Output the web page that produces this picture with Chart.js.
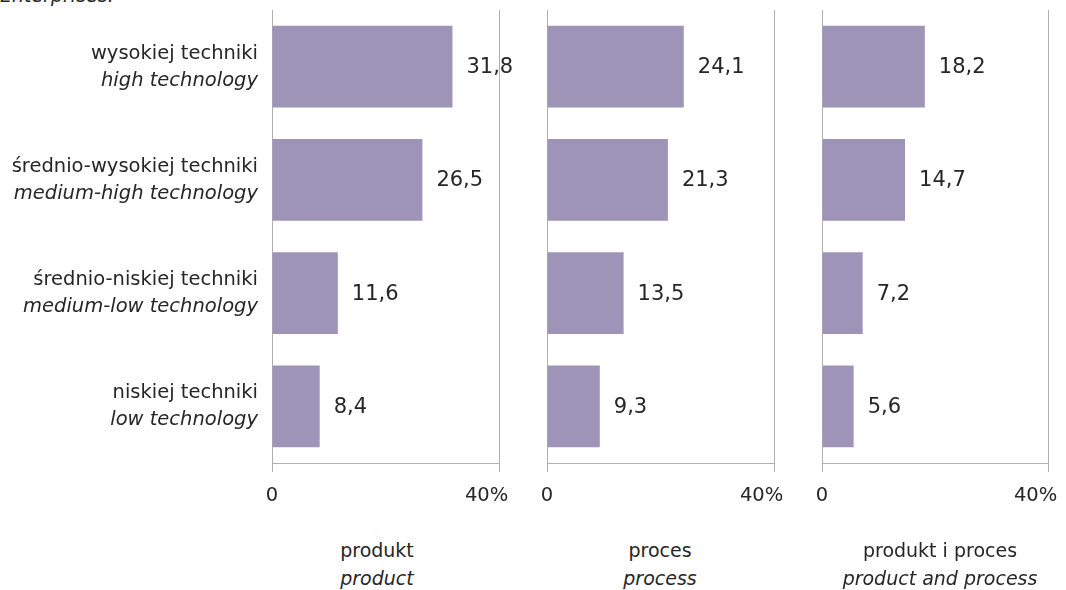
<!DOCTYPE html>
<html><head><meta charset="utf-8">
<script src="https://cdn.jsdelivr.net/npm/chart.js@4.4.1/dist/chart.umd.min.js"></script>
<style>
html,body{margin:0;padding:0;background:#fff}
body{width:1066px;height:590px;overflow:hidden;position:relative;font-family:'DejaVu Sans',sans-serif;color:#262626}
canvas{position:absolute;top:0}
.cap{position:absolute;top:536px;text-align:center;font-size:19px;line-height:28px;white-space:nowrap;transform:translateX(-50%)}
.hdr{position:absolute;left:0;top:-16px;font-size:19px;font-style:italic;white-space:nowrap}
</style></head>
<body>
<div class="hdr" id="hdr"></div>
<canvas id="c1" width="545" height="520" style="left:0px;width:545px;height:520px"></canvas>
<canvas id="c2" width="310" height="520" style="left:510px;width:310px;height:520px"></canvas>
<canvas id="c3" width="281" height="520" style="left:785px;width:281px;height:520px"></canvas>
<div id="caps"></div>
<script>
const headerText = 'Enterprises:';
const categoriesPL = ['wysokiej techniki','średnio-wysokiej techniki','średnio-niskiej techniki','niskiej techniki'];
const categoriesEN = ['high technology','medium-high technology','medium-low technology','low technology'];
const panelsPL = ['produkt','proces','produkt i proces'];
const panelsEN = ['product','process','product and process'];
const productValues = [31.8, 26.5, 11.6, 8.4];
const processValues = [24.1, 21.3, 13.5, 9.3];
const bothValues = [18.2, 14.7, 7.2, 5.6];
const tickLabels = ['0', '40%'];

const FONT = "'DejaVu Sans', sans-serif";
const TXT = '#262626';
const GRID = '#b0b0b0';
const BAR = '#9e94b7';

document.getElementById('hdr').textContent = headerText;
const capCenters = [377, 660, 940];
document.getElementById('caps').innerHTML = panelsPL.map((p, i) =>
  `<div class="cap" style="left:${capCenters[i]}px">${p}<br><i>${panelsEN[i]}</i></div>`).join('');

const valueLabels = {
  id: 'valueLabels',
  afterDatasetsDraw(chart) {
    const ctx = chart.ctx;
    const meta = chart.getDatasetMeta(0);
    ctx.save();
    ctx.font = `21px ${FONT}`;
    ctx.fillStyle = TXT;
    ctx.textAlign = 'left';
    ctx.textBaseline = 'middle';
    meta.data.forEach((bar, i) => {
      const v = chart.data.datasets[0].data[i];
      ctx.fillText(v.toFixed(1).replace('.', ','), bar.x + 14, bar.y + 1);
    });
    ctx.restore();
  }
};

const catLabels = {
  id: 'catLabels',
  afterDraw(chart) {
    const ctx = chart.ctx;
    const ys = chart.scales.y;
    ctx.save();
    ctx.fillStyle = TXT;
    ctx.textAlign = 'right';
    ctx.textBaseline = 'middle';
    categoriesPL.forEach((c, i) => {
      const py = ys.getPixelForValue(i);
      ctx.font = `19.5px ${FONT}`;
      ctx.fillText(c, 258, py - 13);
      ctx.font = `italic 19.5px ${FONT}`;
      ctx.fillText(categoriesEN[i], 258, py + 14);
    });
    ctx.restore();
  }
};

function makeChart(id, values, padL, padR, withCats) {
  return new Chart(document.getElementById(id), {
    type: 'bar',
    data: {
      labels: categoriesPL,
      datasets: [{ data: values, backgroundColor: BAR, borderWidth: 0, barPercentage: 0.724, categoryPercentage: 1 }]
    },
    options: {
      indexAxis: 'y',
      responsive: false,
      animation: false,
      layout: { padding: { left: padL, right: padR, top: 10, bottom: 7 } },
      plugins: { legend: { display: false }, tooltip: { enabled: false } },
      scales: {
        x: {
          type: 'linear', min: 0, max: 40,
          ticks: {
            stepSize: 40, color: TXT, padding: 12, maxRotation: 0,
            font: { family: FONT, size: 19.5 },
            callback: (v, i) => i === 0 ? tickLabels[0] : tickLabels[1] + '    '
          },
          grid: { color: GRID, lineWidth: 1, drawTicks: true, tickLength: 9, tickColor: GRID },
          border: { display: true, color: GRID, width: 1 },
          afterFit: (s) => { s.height = 50; s.paddingLeft = 0; s.paddingRight = 0; }
        },
        y: { type: 'category', display: false, offset: true }
      }
    },
    plugins: withCats ? [valueLabels, catLabels] : [valueLabels]
  });
}

makeChart('c1', productValues, 272, 46, true);
makeChart('c2', processValues, 37, 46, false);
makeChart('c3', bothValues, 37, 18, false);
</script>
</body></html>
